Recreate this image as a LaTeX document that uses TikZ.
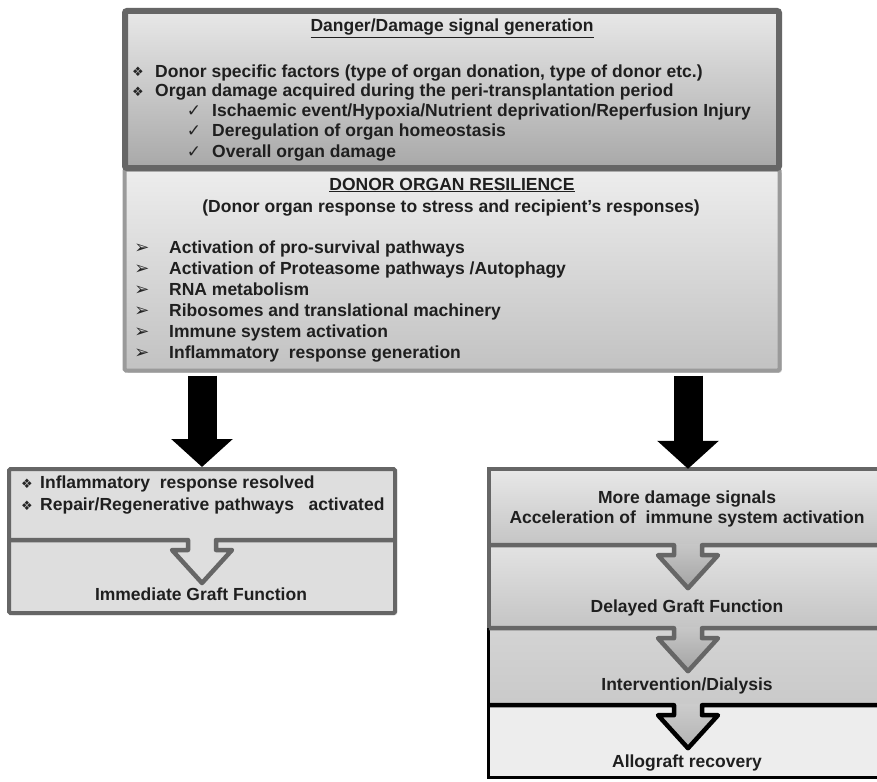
\documentclass[tikz,border=0pt]{standalone}
\usepackage{fontspec}
\setmainfont{Liberation Sans}
\newfontfamily\symf{DejaVu Sans}
\usetikzlibrary{arrows.meta,calc,shadows}
\definecolor{bordA}{HTML}{666666}
\definecolor{bordB}{HTML}{9A9A9A}
\newcommand{\hollowdiv}[5]{%
  \path[#5] ($(#3)+(-14,-1)$) -- ++(0,11) -- ++(-16,0) -- ++(30,33) -- ++(30,-33) -- ++(-16,0) -- ++(0,-11) -- cycle;
  \draw[#4, line join=round] (#1) -- ($(#3)+(-14,0)$) -- ++(0,10) -- ++(-16,0) -- ++(30,33) -- ++(30,-33) -- ++(-16,0) -- ++(0,-10) -- (#2);
}
\begin{document}
\begin{tikzpicture}[x=1pt,y=-1pt,
  txt/.style={inner sep=0pt, font=\fontsize{17.5}{20}\selectfont\bfseries, text=black!88},
  sym/.style={inner sep=0pt, font=\symf\fontsize{13}{15}\selectfont, text=black!85},
  chk/.style={inner sep=0pt, font=\symf\fontsize{17}{19}\selectfont, text=black!85},
  arw/.style={inner sep=0pt, font=\symf\fontsize{18}{20}\selectfont, text=black!85},
  shd/.style={drop shadow={shadow xshift=2pt, shadow yshift=-2pt, opacity=0.25, fill=black}},
  bigarrow/.style={line width=29pt, -{Triangle[length=28pt,width=60pt]}},
  sect/.style={inner sep=0pt, minimum width=398pt}
]
\useasboundingbox (0,0) rectangle (877,781);
\clip (0,0) rectangle (877,781);
\fill[white] (0,0) rectangle (877,781);

% ---------- middle box ----------
\node[shd, draw=bordB, line width=4pt, rounded corners=1.5pt, inner sep=0pt,
      minimum width=655pt, minimum height=201pt,
      top color=black!7, bottom color=black!24] (mid) at (452,270) {};
% ---------- top box ----------
\node[draw=bordA, line width=6pt, rounded corners=2pt, inner sep=0pt,
      minimum width=654pt, minimum height=157pt,
      top color=black!9, bottom color=black!34] (top) at (452,89.5) {};

% top texts
\node[txt, anchor=base] (t0) at (452,32) {\underline{Danger/Damage signal generation}};
\node[sym, anchor=base] (b1) at (138,77) {❖};
\node[txt, anchor=base west] (t1) at (155,78) {Donor specific factors (type of organ donation, type of donor etc.)};
\node[sym, anchor=base] (b2) at (138,97) {❖};
\node[txt, anchor=base west] (t2) at (155,97) {Organ damage acquired during the peri-transplantation period};
\node[chk, anchor=base] (c3) at (194,117) {✓};
\node[txt, anchor=base west] (t3) at (212,117) {Ischaemic event/Hypoxia/Nutrient deprivation/Reperfusion Injury};
\node[chk, anchor=base] (c4) at (194,136) {✓};
\node[txt, anchor=base west] (t4) at (212,136) {Deregulation of organ homeostasis};
\node[chk, anchor=base] (c5) at (194,157) {✓};
\node[txt, anchor=base west] (t5) at (212,157) {Overall organ damage};

% middle texts
\node[txt, anchor=base] (m0) at (452,190) {\underline{DONOR ORGAN RESILIENCE}};
\node[txt, anchor=base] (m1) at (451,212) {(Donor organ response to stress and recipient's responses)};
\node[arw, anchor=base] (a1) at (142,253) {➢};
\node[txt, anchor=base west] (m2) at (169,253) {Activation of pro-survival pathways};
\node[arw, anchor=base] (a2) at (142,274) {➢};
\node[txt, anchor=base west] (m3) at (169,274) {Activation of Proteasome pathways /Autophagy};
\node[arw, anchor=base] (a3) at (142,295) {➢};
\node[txt, anchor=base west] (m4) at (169,295) {RNA metabolism};
\node[arw, anchor=base] (a4) at (142,316) {➢};
\node[txt, anchor=base west] (m5) at (169,316) {Ribosomes and translational machinery};
\node[arw, anchor=base] (a5) at (142,337) {➢};
\node[txt, anchor=base west] (m6) at (169,337) {Immune system activation};
\node[arw, anchor=base] (a6) at (142,358) {➢};
\node[txt, anchor=base west] (m7) at (169,358) {Inflammatory\ \ response generation};

% ---------- left bottom box ----------
\node[shd, draw=bordA, line width=4pt, rounded corners=1.5pt, inner sep=0pt,
      minimum width=386pt, minimum height=144pt, fill=black!13] (lbox) at (202,541) {};
\coordinate (ldl) at (9,540);
\coordinate (ldr) at (395,540);
\coordinate (ldc) at (202,540);
\hollowdiv{ldl}{ldr}{ldc}{draw=bordA, line width=4.5pt}{fill=black!13}
\node[sym, anchor=base] (lb1) at (27,488) {❖};
\node[txt, anchor=base west] (lt1) at (40,488) {Inflammatory\ \ response resolved};
\node[sym, anchor=base] (lb2) at (27,510) {❖};
\node[txt, anchor=base west] (lt2) at (40,510) {Repair/Regenerative pathways\ \ \ activated};
\node[txt, anchor=base] (lt3) at (201,600) {Immediate Graft Function};

% ---------- right bottom box ----------
\node[sect, minimum height=76pt, top color=black!9, bottom color=black!23] (r1) at (688,507) {};
\node[sect, minimum height=83pt, top color=black!11, bottom color=black!23] (r2) at (688,586.5) {};
\node[sect, minimum height=77pt, top color=black!17, bottom color=black!21] (r3) at (688,666.5) {};
\node[sect, minimum height=72pt, fill=black!7] (r4) at (688,741) {};
\draw[bordA, line width=4pt] (r1.north east) -- (r1.north west) -- (r2.south west);
\draw[black, line width=3pt] (r3.north west) -- (r4.south west) -- (r4.south east);
\hollowdiv{r1.south west}{r1.south east}{r1.south}{draw=bordA, line width=4.5pt}{top color=black!22, bottom color=black!36}
\hollowdiv{r2.south west}{r2.south east}{r2.south}{draw=bordA, line width=4.5pt}{top color=black!22, bottom color=black!36}
\hollowdiv{r3.south west}{r3.south east}{r3.south}{draw=black, line width=4.5pt}{top color=black!20, bottom color=black!30}

\node[txt, anchor=base] (rt1) at (687,503) {More damage signals};
\node[txt, anchor=base] (rt2) at (687,523) {Acceleration of\ \ immune system activation};
\node[txt, anchor=base] (rt3) at (687,612) {Delayed Graft Function};
\node[txt, anchor=base] (rt4) at (687,690) {Intervention/Dialysis};
\node[txt, anchor=base] (rt5) at (687,767) {Allograft recovery};

% ---------- black block arrows ----------
\draw[bigarrow] ($(mid.south -| lbox.north)+(0,3)$) -- (lbox.north);
\draw[bigarrow] ($(mid.south -| r1.north)+(0,3)$) -- (r1.north);
\end{tikzpicture}
\end{document}
